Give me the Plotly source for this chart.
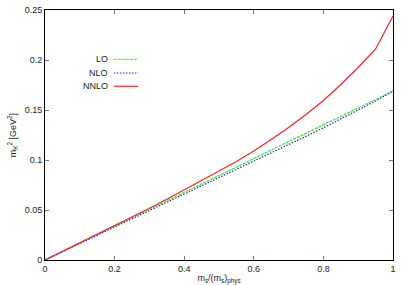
import plotly.graph_objects as go

x_vals = [0.0, 0.05, 0.1, 0.15, 0.2, 0.25, 0.3, 0.35, 0.4, 0.45, 0.5,
          0.55, 0.6, 0.65, 0.7, 0.75, 0.8, 0.85, 0.9, 0.95, 1.0]
lo_vals = [0.0, 0.0085, 0.0169, 0.0254, 0.0338, 0.0423, 0.0507, 0.0592, 0.0676, 0.0761, 0.0845,
           0.0930, 0.1014, 0.1099, 0.1183, 0.1268, 0.1352, 0.1437, 0.1521, 0.1606, 0.169]
nlo_vals = [0.0, 0.0082, 0.0163, 0.0245, 0.0327, 0.0409, 0.0491, 0.0573, 0.0655, 0.0737, 0.0820,
            0.0903, 0.0986, 0.1069, 0.1153, 0.1237, 0.1322, 0.1409, 0.1497, 0.1590, 0.169]
nnlo_vals = [0.0, 0.0085, 0.0170, 0.0256, 0.0342, 0.0430, 0.0518, 0.0608, 0.0700, 0.0794, 0.0890,
             0.0985, 0.1090, 0.1205, 0.1325, 0.1455, 0.1595, 0.1755, 0.1925, 0.2110, 0.2440]

series_names = ["LO", "NLO", "NNLO"]
series_colors = ["#33ee33", "#2222ee", "#ff2020"]
series_dash = ["3px,1px", "1.5px,1.5px", "solid"]

x_ticks = [0, 0.2, 0.4, 0.6, 0.8, 1]
x_tick_text = ["0", "0.2", "0.4", "0.6", "0.8", "1"]
y_ticks = [0, 0.05, 0.1, 0.15, 0.2, 0.25]
y_tick_text = ["0", "0.05", "0.1", "0.15", "0.2", "0.25"]

font_family = "Liberation Sans, Arial, sans-serif"

fig = go.Figure()
for name, ys, col, dash in zip(series_names, [lo_vals, nlo_vals, nnlo_vals], series_colors, series_dash):
    fig.add_trace(go.Scatter(x=x_vals, y=ys, mode="lines", name=name,
                             line=dict(color=col, width=1.2, dash=dash), showlegend=False))

# manual gnuplot-style legend (text left of sample line)
leg_y = [0.803, 0.748, 0.695]
for name, col, dash, ly in zip(series_names, series_colors, series_dash, leg_y):
    fig.add_annotation(x=0.186, y=ly, xref="paper", yref="paper", text=name, showarrow=False,
                       xanchor="right", yanchor="middle", font=dict(size=9, color="#222222", family=font_family))
    fig.add_shape(type="line", xref="paper", yref="paper", x0=0.198, x1=0.268, y0=ly, y1=ly,
                  line=dict(color=col, width=1.2, dash=dash))

axis_common = dict(showgrid=False, zeroline=False, showline=True, linecolor="#000000", linewidth=1,
                   mirror="ticks", ticks="inside", ticklen=4, tickcolor="#777777", automargin=False,
                   tickfont=dict(size=9, color="#222222", family=font_family))

fig.update_layout(
    width=407, height=285,
    margin=dict(l=45, r=14, t=10, b=25),
    paper_bgcolor="white", plot_bgcolor="white",
    xaxis=dict(range=[0, 1], tickvals=x_ticks, ticktext=x_tick_text,
               title=dict(text="m<sub>s</sub>/(m<sub>s</sub>)<sub>phys</sub>", standoff=2,
                          font=dict(size=9, color="#222222", family=font_family)), **axis_common),
    yaxis=dict(range=[0, 0.25], tickvals=y_ticks, ticktext=y_tick_text,
               title=dict(text="m<sub>K</sub><sup>2</sup> [GeV<sup>2</sup>]", standoff=6,
                          font=dict(size=9, color="#222222", family=font_family)), **axis_common),
)

fig.write_html("out.html", config={"displayModeBar": False},
               post_script="document.body.style.margin='0';document.body.style.overflow='hidden';")
